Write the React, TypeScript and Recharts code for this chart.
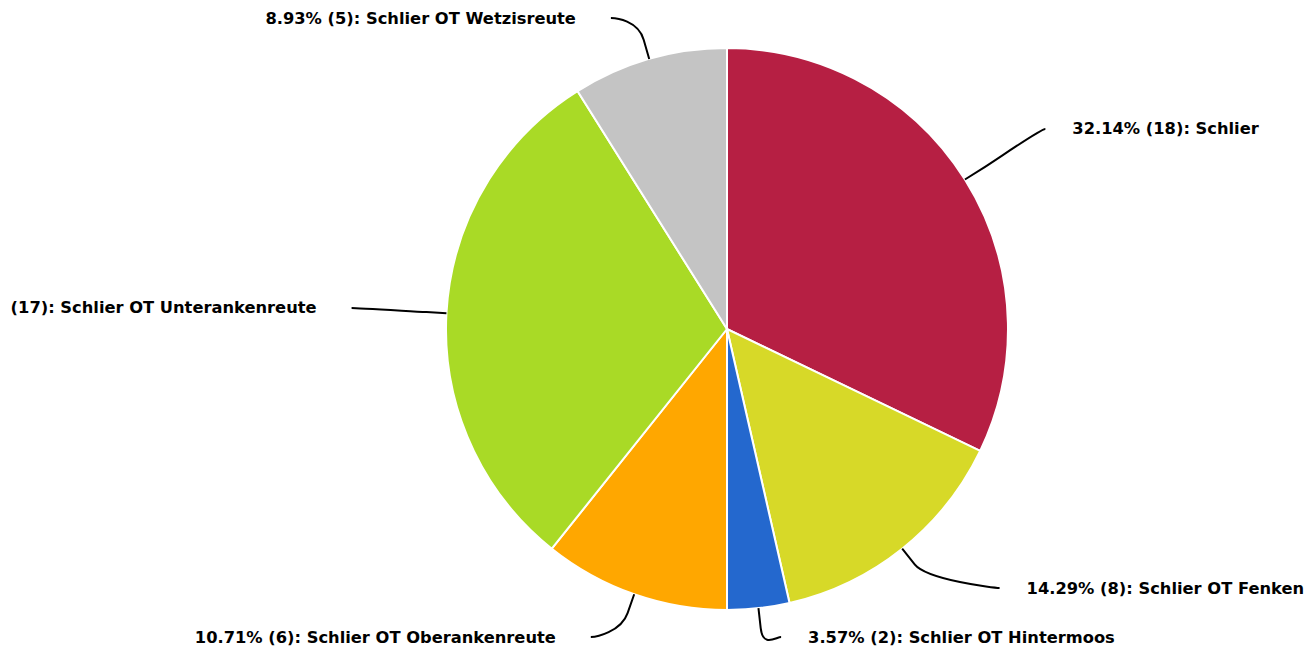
import React from 'react';
import { PieChart, Pie, Cell } from 'recharts';

const categories = [
  'Schlier',
  'Schlier OT Fenken',
  'Schlier OT Hintermoos',
  'Schlier OT Oberankenreute',
  'Schlier OT Unterankenreute',
  'Schlier OT Wetzisreute',
];
const counts = [18, 8, 2, 6, 17, 5];
const colors = ['#B61F43', '#D7D928', '#2468CE', '#FFA700', '#A9DA26', '#C4C4C4'];

const W = 1305;
const H = 652;
const CX = 727;
const CY = 329;
const R = 281;
const LR = R + 95; // connector end radius
const BREAK = 20; // connector break distance from the slice edge
const Y_MIN = 18;
const Y_MAX = H - 15;
const SLOT = 49;
const GAP_RIGHT = 27;
const GAP_LEFT = 35;
const CHAR_W = 9.5; // rough average glyph width for fitting labels

const total = counts.reduce((a, b) => a + b, 0);
const data = categories.map((name, i) => ({ name, value: counts[i] }));

type Lab = { i: number; cos: number; sin: number; side: number; nx: number; y: number; clamped: boolean; x: number };

function computeLayout(): Lab[] {
  let acc = 0;
  const items: Lab[] = counts.map((v, i) => {
    const mid = 90 - ((acc + v / 2) / total) * 360;
    acc += v;
    const rad = (mid * Math.PI) / 180;
    const cos = Math.cos(rad);
    const sin = Math.sin(rad);
    const side = cos >= 0 ? 1 : -1;
    const ny = CY - LR * sin;
    const nx = CX + LR * cos;
    const y = Math.min(Math.max(ny, Y_MIN), Y_MAX);
    return { i, cos, sin, side, nx, y, clamped: y !== ny, x: nx };
  });
  [1, -1].forEach((s) => {
    const g = items.filter((it) => it.side === s).sort((a, b) => a.y - b.y);
    for (let k = g.length - 2; k >= 0; k--) {
      if (g[k].y > g[k + 1].y - SLOT) g[k].y = g[k + 1].y - SLOT;
    }
  });
  items.forEach((it) => {
    if (it.clamped) {
      it.x = it.nx + it.side * 12;
    } else {
      const dy = it.y - CY;
      it.x = CX + it.side * Math.sqrt(Math.max(LR * LR - dy * dy, 0));
    }
  });
  return items;
}

const layout = computeLayout();

const renderLabel = (props: any) => {
  const idx = props.index;
  const it = layout[idx];
  if (!it) return null;
  const cx = props.cx ?? CX;
  const cy = props.cy ?? CY;
  const or = props.outerRadius ?? R;
  const tx = cx + or * it.cos;
  const ty = cy - or * it.sin;
  const bx = cx + (or + BREAK) * it.cos;
  const by = cy - (or + BREAK) * it.sin;
  const ex = it.x;
  const ey = it.y;
  const d = `M ${ex} ${ey} C ${ex - it.side * 5} ${ey}, ${2 * bx - tx} ${2 * by - ty}, ${bx} ${by} L ${tx} ${ty}`;
  const v = counts[idx];
  const pct = ((v / total) * 100).toFixed(2);
  const labelX = ex + it.side * (it.side > 0 ? GAP_RIGHT : GAP_LEFT);
  const full = `${pct}% (${v}): ${categories[idx]}`;
  const short = `(${v}): ${categories[idx]}`;
  // the left edge cuts the percentage off a label that does not fit
  const room = it.side > 0 ? W - labelX : labelX;
  const text = full.length * CHAR_W > room ? short : full;
  return (
    <g key={`lab-${idx}`}>
      <path d={d} fill="none" stroke="#000000" strokeWidth={2} />
      <text
        x={labelX}
        y={ey}
        textAnchor={it.side > 0 ? 'start' : 'end'}
        dominantBaseline="central"
        fontFamily="'DejaVu Sans', sans-serif"
        fontWeight="bold"
        fontSize={16.3}
        fill="#000000"
      >
        {text}
      </text>
    </g>
  );
};

export default function App() {
  return (
    <div style={{ position: 'absolute', left: 0, top: 0, width: W, height: H, background: '#ffffff' }}>
      <PieChart width={W} height={H} margin={{ top: 0, right: 0, bottom: 0, left: 0 }}>
        <Pie
          data={data}
          dataKey="value"
          nameKey="name"
          cx={CX}
          cy={CY}
          outerRadius={R}
          innerRadius={0}
          startAngle={90}
          endAngle={-270}
          stroke="#ffffff"
          strokeWidth={2}
          label={renderLabel}
          labelLine={false}
          isAnimationActive={false}
        >
          {data.map((d, i) => (
            <Cell key={d.name} fill={colors[i]} />
          ))}
        </Pie>
      </PieChart>
    </div>
  );
}
